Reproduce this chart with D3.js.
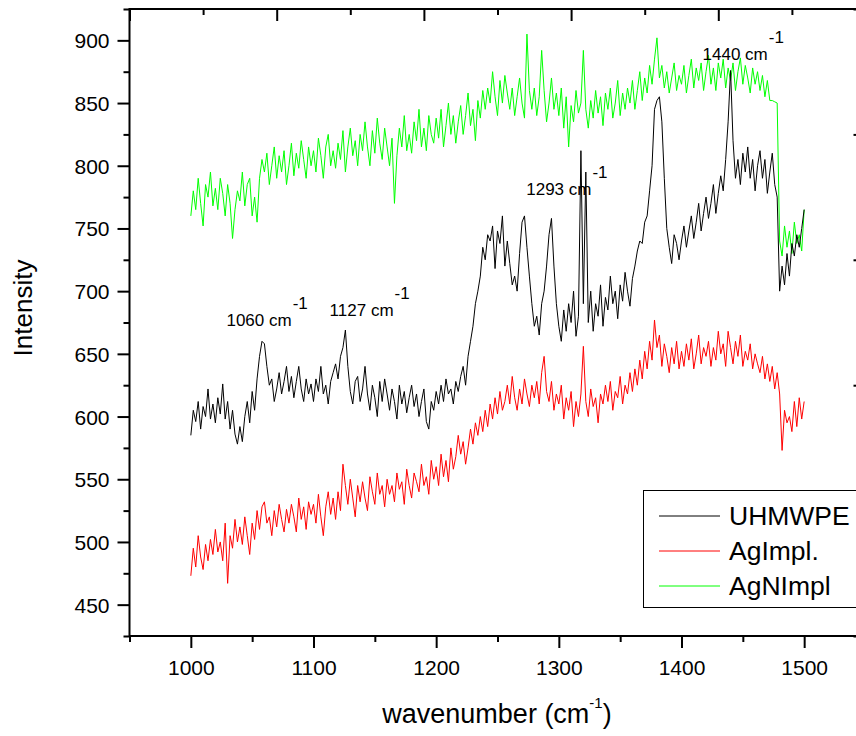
<!DOCTYPE html>
<html>
<head>
<meta charset="utf-8">
<script src="https://cdn.jsdelivr.net/npm/d3@7/dist/d3.min.js"></script>
<style>
  html, body { margin: 0; padding: 0; background: #fff; }
  svg { display: block; font-family: "Liberation Sans", Arial, Helvetica, sans-serif; }
</style>
</head>
<body>
<svg id="chart" width="856" height="736"></svg>
<script>
// ---------------- data ----------------
// wavenumber grid of the spectra (cm^-1), one reading every 2 cm^-1
const wavenumbers = d3.range(1000, 1501, 2);

const seriesNames = ["UHMWPE", "AgImpl.", "AgNImpl"];
const seriesColors = ["#000000", "#ff0000", "#00ff00"];

const uhmwpe = [
  585, 605, 596, 612, 590, 608, 600, 622, 598, 610,
  595, 615, 602, 626, 598, 612, 590, 605, 586, 578,
  592, 580, 600, 612, 595, 620, 605, 630, 648, 660,
  658, 640, 625, 630, 612, 622, 635, 618, 628, 640,
  620, 632, 615, 628, 640, 622, 612, 630, 618, 626,
  612, 630, 620, 640, 618, 625, 610, 628, 635, 642,
  630, 648, 655, 669, 640, 620, 610, 628, 632, 612,
  622, 640, 618, 605, 625, 615, 600, 628, 612, 630,
  618, 605, 622, 612, 598, 625, 610, 620, 603, 615,
  625, 608, 618, 600, 612, 622, 596, 590, 612, 605,
  620, 610, 625, 612, 630, 618, 622, 610, 628, 620,
  632, 640, 625, 648, 660, 672, 690, 700, 712, 735,
  725, 745, 740, 752, 718, 748, 738, 760, 720, 740,
  722, 705, 712, 700, 730, 755, 760, 735, 712, 690,
  672, 680, 665, 690, 700, 720, 745, 758, 720, 690,
  672, 660, 685, 668, 690, 675, 700, 664, 680, 812,
  690, 795, 675, 700, 668, 690, 680, 705, 672, 695,
  685, 712, 690, 700, 678, 705, 692, 715, 700, 688,
  710, 720, 732, 740, 738, 755, 760, 780, 800, 845,
  852, 855, 835, 790, 750, 735, 722, 745, 738, 725,
  740, 752, 735, 748, 760, 742, 755, 770, 748, 762,
  775, 758, 770, 785, 762, 778, 792, 780, 805, 835,
  876, 820, 790, 805, 785, 810, 795, 815, 790, 805,
  780, 800, 812, 790, 805, 778, 795, 810, 785, 775,
  700, 720, 705, 730, 712, 738, 728, 745, 735, 750,
  765
];

const agImpl = [
  473, 495, 480, 505, 488, 478, 498, 485, 502, 490,
  510, 492, 500, 485, 515, 467, 505, 495, 518, 500,
  512, 498, 520, 505, 490, 515, 502, 525, 510, 528,
  532, 515, 520, 505, 525, 512, 530, 518, 508, 526,
  515, 530, 520, 508, 535, 518, 528, 510, 532, 522,
  530, 515, 538, 520, 505, 528, 540, 522, 535, 518,
  540, 525, 562, 545, 530, 550, 535, 520, 545, 532,
  548, 535, 525, 552, 540, 530, 555, 538, 545, 528,
  550, 538, 545, 532, 555, 542, 548, 530, 558, 545,
  535, 555, 548, 540, 562, 545, 552, 538, 565, 550,
  560, 545, 570, 552, 565, 548, 575, 558, 568, 585,
  570, 580, 562, 575, 590, 578, 595, 585, 600, 588,
  605, 592, 610, 598, 615, 602, 620, 605, 612, 625,
  610, 632, 615, 605, 622, 610, 630, 618, 608, 625,
  615, 628, 610, 635, 648, 620, 612, 628, 605, 618,
  610, 625, 598, 615, 605, 620, 592, 612, 600, 618,
  656, 612, 600, 622, 608, 615, 595, 618, 610, 625,
  612, 628, 605, 620, 615, 632, 610, 625, 618, 635,
  620, 638, 625, 645, 630, 652, 638, 660, 645, 677,
  655, 665, 640, 658, 648, 635, 655, 642, 660, 638,
  652, 640, 658, 645, 662, 638, 650, 665, 642, 655,
  648, 660, 640, 655, 645, 668, 650, 658, 640, 668,
  655, 642, 660, 648, 665, 640, 652, 645, 658, 638,
  650, 642, 635, 648, 630, 642, 628, 640, 622, 635,
  618, 573, 605, 595, 600, 588, 612, 592, 615, 598,
  612
];

const agNImpl = [
  760, 780, 765, 790, 770, 752, 785, 775, 795, 768,
  782, 765, 790, 778, 760, 785, 770, 742, 765, 780,
  772, 795, 768, 785, 790, 760, 775, 755, 790, 805,
  795, 810, 785, 800, 815, 790, 808, 795, 812, 785,
  800, 818, 792, 810, 798, 820, 805, 790, 815, 800,
  812, 795, 822, 808, 790, 815, 825, 800, 812, 798,
  818, 805, 828, 795, 815, 830, 808, 820, 800, 825,
  812, 835, 815, 800, 828, 810, 838, 818, 805, 830,
  815, 800, 822, 770, 808, 830, 815, 840, 812, 825,
  810, 835, 820, 845, 815, 830, 812, 840, 825, 818,
  838, 822, 845, 815, 832, 850, 825, 840, 818, 835,
  848, 825, 840, 858, 832, 845, 820, 852, 838, 860,
  845, 862, 850, 875, 855, 840, 868, 850, 872, 858,
  845, 862, 840, 855, 870, 850, 838, 905, 860, 845,
  862, 840, 855, 892, 860, 835, 850, 870, 845, 858,
  840, 862, 830, 855, 815, 848, 835, 860, 842, 850,
  892, 845, 830, 852, 838, 860, 842, 855, 832, 858,
  845, 862, 838, 850, 868, 840, 858, 845, 862, 850,
  868, 845, 860, 875, 852, 870, 858, 880, 865, 885,
  902, 870, 880, 862, 875, 858, 870, 882, 860, 872,
  865, 880, 858, 872, 885, 862, 878, 868, 882, 860,
  875, 888, 865, 878, 860, 882, 870, 885, 862, 878,
  868, 882, 860, 875, 886, 865, 880, 870, 858, 878,
  865, 875, 860, 872, 855, 868, 852, 852, 851, 850,
  740, 728, 752, 735, 748, 730, 755, 738, 745, 732,
  765
];

// axis ticks
const xMajorTicks = [1000, 1100, 1200, 1300, 1400, 1500];
const xMinorTicks = [950, 1050, 1150, 1250, 1350, 1450, 1550];
const yMajorTicks = [450, 500, 550, 600, 650, 700, 750, 800, 850, 900];
const yMinorTicks = [425, 475, 525, 575, 625, 675, 725, 775, 825, 875, 925];

// peak annotations
const peakLabels = ["1060 cm", "1127 cm", "1293 cm", "1440 cm"];
const peakWavenumbers = [1060, 1127, 1293, 1440];

// ---------------- layout ----------------
const svg = d3.select("#chart");
const W = 856, H = 736;
const plotL = 129.5, plotR = 865.5, plotT = 9, plotB = 636;

svg.append("rect").attr("width", W).attr("height", H).attr("fill", "#fff");

const x = d3.scaleLinear().domain([950, 1550]).range([plotL, plotR]);
const y = d3.scaleLinear().domain([425, 925]).range([plotB, plotT]);
// secondary (unlabelled) frame axes on top and right
const xTop = d3.scaleLinear().domain([0, 5]).range([plotL, plotR]);
const yRight = d3.scaleLinear().domain([0, 5]).range([plotB, plotT]);

const tickFont = 21;

function styleAxis(g) {
  g.select(".domain").remove();
  g.selectAll(".tick line").attr("stroke", "#000").attr("stroke-width", 2);
  g.selectAll("text").attr("fill", "#000").attr("font-size", tickFont)
    .attr("font-family", '"Liberation Sans", Arial, sans-serif');
}

// bottom axis
svg.append("g").attr("transform", `translate(0,${plotB})`)
  .call(d3.axisBottom(x).tickValues(xMinorTicks).tickSize(6).tickFormat(""))
  .call(styleAxis);
const gx = svg.append("g").attr("transform", `translate(0,${plotB})`)
  .call(d3.axisBottom(x).tickValues(xMajorTicks).tickSize(12).tickFormat(d3.format("d")))
  .call(styleAxis);
gx.selectAll("text").attr("y", 39).attr("dy", 0);

// left axis
svg.append("g").attr("transform", `translate(${plotL},0)`)
  .call(d3.axisLeft(y).tickValues(yMinorTicks).tickSize(6).tickFormat(""))
  .call(styleAxis);
const gy = svg.append("g").attr("transform", `translate(${plotL},0)`)
  .call(d3.axisLeft(y).tickValues(yMajorTicks).tickSize(12).tickFormat(d3.format("d")))
  .call(styleAxis);
gy.selectAll("text").attr("x", -20).attr("dy", 7.5);

// top axis (ticks inward, no labels)
svg.append("g").attr("transform", `translate(0,${plotT})`)
  .call(d3.axisBottom(xTop).tickValues(d3.range(0.5, 5, 1)).tickSize(6).tickFormat(""))
  .call(styleAxis);
svg.append("g").attr("transform", `translate(0,${plotT})`)
  .call(d3.axisBottom(xTop).tickValues(d3.range(0, 6, 1)).tickSize(12).tickFormat(""))
  .call(styleAxis);

// right axis (ticks inward, no labels)
svg.append("g").attr("transform", `translate(${plotR},0)`)
  .call(d3.axisLeft(yRight).tickValues(d3.range(0.5, 5, 1)).tickSize(6).tickFormat(""))
  .call(styleAxis);
svg.append("g").attr("transform", `translate(${plotR},0)`)
  .call(d3.axisLeft(yRight).tickValues(d3.range(0, 6, 1)).tickSize(12).tickFormat(""))
  .call(styleAxis);

// frame
svg.append("rect")
  .attr("x", plotL).attr("y", plotT)
  .attr("width", plotR - plotL).attr("height", plotB - plotT)
  .attr("fill", "none").attr("stroke", "#000").attr("stroke-width", 2);

// ---------------- series ----------------
const allSeries = [uhmwpe, agImpl, agNImpl];
const line = d3.line()
  .x((d, i) => x(wavenumbers[i]))
  .y(d => y(d));

// draw green first, then red, then black on top
[2, 1, 0].forEach(k => {
  svg.append("path")
    .datum(allSeries[k])
    .attr("d", line)
    .attr("fill", "none")
    .attr("stroke", seriesColors[k])
    .attr("stroke-width", 1)
    .attr("stroke-linejoin", "round");
});

// ---------------- peak annotations ----------------
const annFont = 17;
const annOffsets = [[-38, 326], [-17, 316], [-24, 195], [-28, 60]];
peakLabels.forEach((txt, i) => {
  const ax = x(peakWavenumbers[i]) + annOffsets[i][0];
  const ay = annOffsets[i][1];
  const t = svg.append("text")
    .attr("x", ax).attr("y", ay)
    .attr("font-size", annFont).attr("fill", "#000");
  t.append("tspan").text(txt);
  t.append("tspan").attr("dx", 1).attr("dy", -17).text("-1");
});

// ---------------- axis titles ----------------
svg.append("text")
  .attr("transform", "translate(32,308) rotate(-90)")
  .attr("text-anchor", "middle")
  .attr("font-size", 26).attr("fill", "#000")
  .text("Intensity");

const xt = svg.append("text")
  .attr("x", 497).attr("y", 723)
  .attr("text-anchor", "middle")
  .attr("font-size", 27).attr("fill", "#000");
xt.append("tspan").text("wavenumber (cm");
xt.append("tspan").attr("dy", -15).attr("font-size", 15).text("-1");
xt.append("tspan").attr("dy", 15).text(")");

// ---------------- legend ----------------
const lg = svg.append("g");
lg.append("rect")
  .attr("x", 643.5).attr("y", 490.5).attr("width", 260).attr("height", 117)
  .attr("fill", "#fff").attr("stroke", "#000").attr("stroke-width", 1);
const legendRowY = [516, 551, 586];
seriesNames.forEach((name, i) => {
  lg.append("line")
    .attr("x1", 659).attr("x2", 720)
    .attr("y1", legendRowY[i]).attr("y2", legendRowY[i])
    .attr("stroke", seriesColors[i]).attr("stroke-width", 1);
  lg.append("text")
    .attr("x", 729).attr("y", legendRowY[i] + 9)
    .attr("font-size", 26.5).attr("fill", "#000")
    .text(name);
});
</script>
</body>
</html>
